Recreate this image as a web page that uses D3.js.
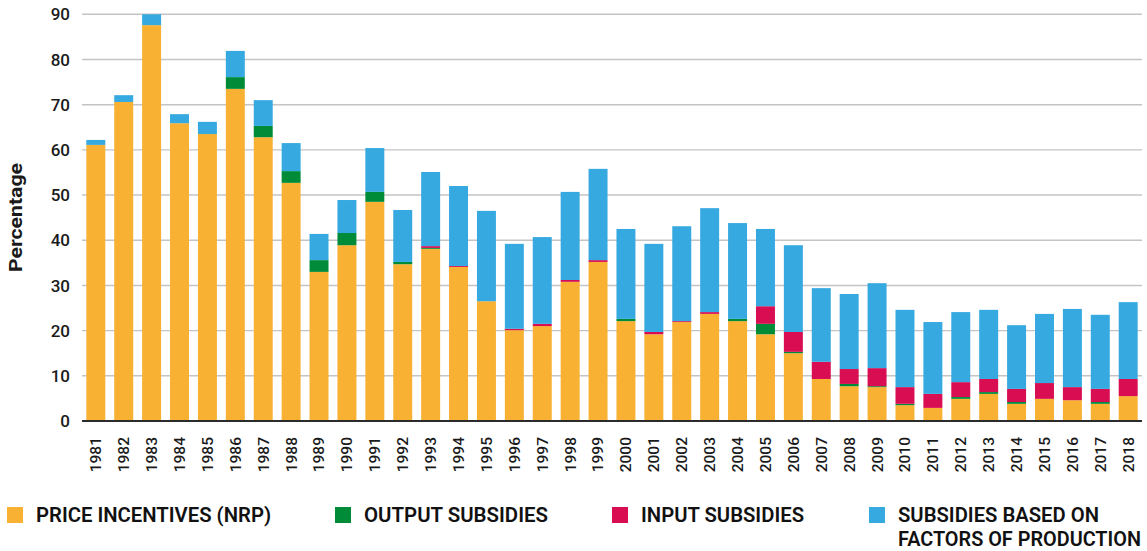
<!DOCTYPE html>
<html>
<head>
<meta charset="utf-8">
<script src="https://cdn.jsdelivr.net/npm/d3@7"></script>
<style>
  body { margin: 0; background: #fff; }
  svg { display: block; font-family: Roboto, "Noto Sans", sans-serif; }
</style>
</head>
<body>
<svg id="chart" width="1147" height="551"></svg>
<script>
// values (percent)
const years = [1981, 1982, 1983, 1984, 1985, 1986, 1987, 1988, 1989, 1990,
  1991, 1992, 1993, 1994, 1995, 1996, 1997, 1998, 1999, 2000,
  2001, 2002, 2003, 2004, 2005, 2006, 2007, 2008, 2009, 2010,
  2011, 2012, 2013, 2014, 2015, 2016, 2017, 2018];

const priceIncentives = [61.1, 70.6, 87.6, 65.9, 63.5, 73.5, 62.8, 52.7, 33.0, 38.9,
  48.5, 34.7, 38.1, 34.1, 26.5, 20.1, 21.0, 30.8, 35.2, 22.1,
  19.2, 21.9, 23.7, 22.1, 19.2, 15.0, 9.3, 7.7, 7.5, 3.5,
  2.9, 4.9, 6.0, 3.8, 4.9, 4.6, 3.8, 5.5];

const outputSubsidies = [0, 0, 0, 0, 0, 2.6, 2.5, 2.6, 2.6, 2.7,
  2.2, 0.5, 0.2, 0, 0, 0, 0, 0, 0, 0.5,
  0, 0, 0, 0.5, 2.3, 0.3, 0, 0.5, 0.2, 0.3,
  0, 0.4, 0.4, 0.4, 0, 0, 0.4, 0];

const inputSubsidies = [0, 0, 0, 0, 0, 0, 0, 0, 0, 0,
  0, 0, 0.4, 0.2, 0, 0.3, 0.5, 0.4, 0.4, 0,
  0.5, 0.2, 0.4, 0, 3.9, 4.4, 3.8, 3.3, 4.0, 3.7,
  3.1, 3.3, 2.9, 2.9, 3.5, 2.9, 2.9, 3.8];

const factorSubsidies = [1.1, 1.5, 2.4, 2.0, 2.7, 5.8, 5.7, 6.2, 5.8, 7.3,
  9.7, 11.5, 16.4, 17.7, 20.0, 18.8, 19.2, 19.5, 20.2, 19.9,
  19.5, 21.0, 23.0, 21.2, 17.1, 19.2, 16.3, 16.6, 18.8, 17.1,
  15.9, 15.5, 15.3, 14.1, 15.3, 17.3, 16.4, 17.0];

const seriesKeys = ["price", "output", "input", "factors"];
const seriesLabels = [
  ["PRICE INCENTIVES (NRP)"],
  ["OUTPUT SUBSIDIES"],
  ["INPUT SUBSIDIES"],
  ["SUBSIDIES BASED ON", "FACTORS OF PRODUCTION"]
];
const yTicks = [0, 10, 20, 30, 40, 50, 60, 70, 80, 90];

// layout
const colors = ["#f8b133", "#008b39", "#d80d52", "#36a9e0"];
const plot = { left: 82, right: 1142, top: 14.3, bottom: 421 };
const legendX = [7, 335, 612, 869];
const legendTextLen = [[235], [184], [163], [201, 243]];

const rows = years.map((yr, i) => ({
  year: yr,
  price: priceIncentives[i],
  output: outputSubsidies[i],
  input: inputSubsidies[i],
  factors: factorSubsidies[i]
}));

const svg = d3.select("#chart");

const x = d3.scaleBand()
  .domain(years)
  .range([plot.left, plot.right])
  .paddingInner(0.32)
  .paddingOuter(0.155);

const y = d3.scaleLinear()
  .domain([0, 90])
  .range([plot.bottom, plot.top]);

// gridlines
svg.append("g")
  .selectAll("line")
  .data(yTicks.filter(d => d > 0))
  .join("line")
  .attr("x1", plot.left)
  .attr("x2", plot.right)
  .attr("y1", d => y(d))
  .attr("y2", d => y(d))
  .attr("stroke", "#c4c4c4")
  .attr("stroke-width", 1.4);

// y tick labels
svg.append("g")
  .selectAll("text")
  .data(yTicks)
  .join("text")
  .attr("x", 70)
  .attr("y", d => y(d))
  .attr("dy", "0.36em")
  .attr("text-anchor", "end")
  .attr("font-size", 17)
  .attr("font-weight", 500)
  .attr("fill", "#1a1a1a")
  .text(d => d);

svg.append("text")
  .attr("transform", "translate(22,217.5) rotate(-90)")
  .attr("text-anchor", "middle")
  .attr("font-size", 17.5)
  .attr("font-weight", 700)
  .attr("fill", "#1a1a1a")
  .attr("textLength", 109)
  .attr("lengthAdjust", "spacingAndGlyphs")
  .text("Percentage");

// stacked bars
const stacked = d3.stack().keys(seriesKeys)(rows);

svg.append("g")
  .selectAll("g")
  .data(stacked)
  .join("g")
  .attr("fill", (d, i) => colors[i])
  .selectAll("rect")
  .data(d => d.filter(s => s[1] - s[0] > 0))
  .join("rect")
  .attr("x", d => x(d.data.year))
  .attr("width", x.bandwidth())
  .attr("y", d => y(d[1]))
  .attr("height", d => y(d[0]) - y(d[1]));

// baseline
svg.append("line")
  .attr("x1", plot.left)
  .attr("x2", plot.right)
  .attr("y1", y(0))
  .attr("y2", y(0))
  .attr("stroke", "#2b2b2b")
  .attr("stroke-width", 2);

// x tick labels, rotated
svg.append("g")
  .selectAll("text")
  .data(years)
  .join("text")
  .attr("transform", d => `translate(${x(d) + x.bandwidth() / 2},437) rotate(-90)`)
  .attr("dy", "0.35em")
  .attr("text-anchor", "end")
  .attr("font-size", 15.5)
  .attr("font-weight", 500)
  .attr("fill", "#1a1a1a")
  .text(d => d);

// legend
const legend = svg.append("g")
  .selectAll("g")
  .data(seriesLabels)
  .join("g")
  .attr("transform", (d, i) => `translate(${legendX[i]},507)`);

legend.append("rect")
  .attr("width", 16)
  .attr("height", 16)
  .attr("fill", (d, i) => colors[i]);

legend.each(function(lines, i) {
  const g = d3.select(this);
  lines.forEach((t, j) => {
    g.append("text")
      .attr("x", 29)
      .attr("y", 15 + j * 24)
      .attr("font-size", 20)
      .attr("font-weight", 600)
      .attr("fill", "#111")
      .attr("textLength", legendTextLen[i][j])
      .attr("lengthAdjust", "spacingAndGlyphs")
      .text(t);
  });
});
</script>
</body>
</html>
